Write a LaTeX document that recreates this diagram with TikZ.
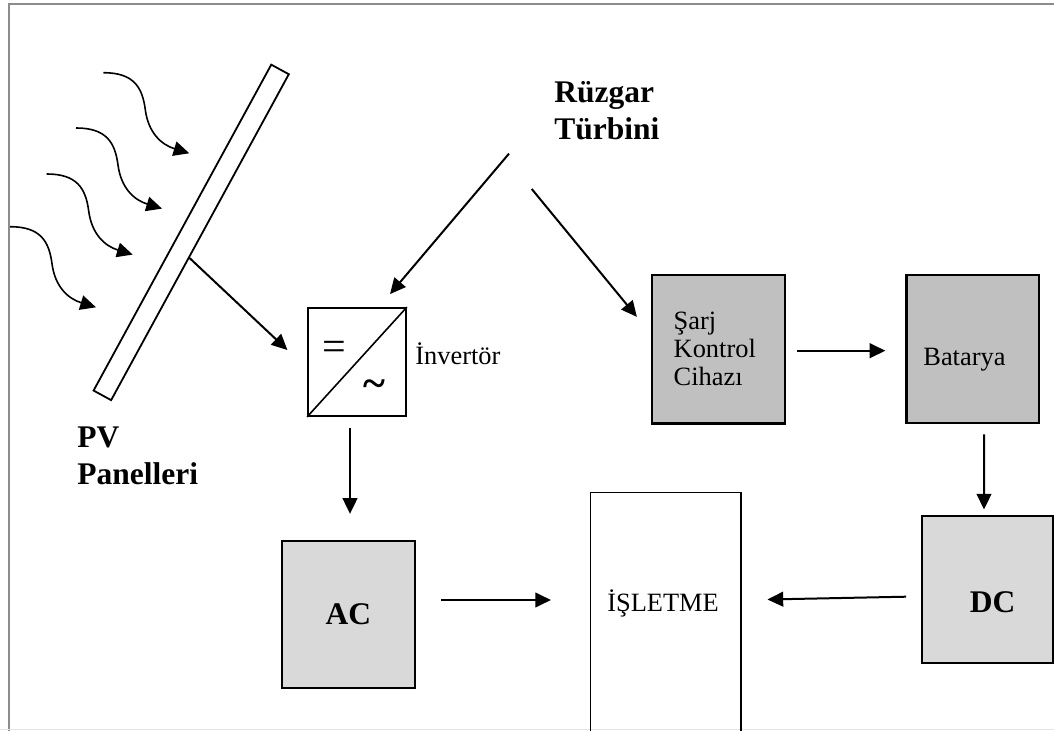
\documentclass[tikz,border=0pt]{standalone}
\usepackage{fontspec}
\setmainfont{Liberation Serif}
\usetikzlibrary{arrows.meta,calc}
\definecolor{boxdark}{RGB}{192,192,192}
\definecolor{boxlight}{RGB}{217,217,217}
\definecolor{framegray}{RGB}{140,140,140}
\definecolor{framelight}{RGB}{228,228,228}
\tikzset{
 arr/.style={line width=1pt, -{Triangle[length=7.85pt,width=7.35pt]}},
 wave/.style={line width=0.8pt, -{Triangle[length=7.85pt,width=7.35pt]}},
 blk/.style={draw, line width=1.15pt, inner sep=0pt},
 regtxt/.style={font=\fontsize{13.2}{14}\selectfont, inner sep=0pt},
 boldtxt/.style={font=\fontsize{15.75}{18.5}\selectfont\bfseries, inner sep=0pt, align=left},
 symtxt/.style={font=\fontsize{21}{21}\selectfont, inner sep=0pt},
}
\begin{document}
\begin{tikzpicture}[x=0.5pt,y=-0.5pt]
\useasboundingbox (0,0) rectangle (1054,731);
% frame
\draw[framegray, line width=1pt] (8.5,731) -- (8.5,3.7) -- (1054,3.7);
\draw[framelight, line width=0.8pt] (0,729.6) -- (1054,729.6);

% PV panel
\node[draw, line width=0.9pt, minimum width=185.6pt, minimum height=10pt, inner sep=0pt, rotate=61.4] (panel) at (191.2,232.4) {};
\node[boldtxt, anchor=west] (pv) at (77,456) {PV\\Panelleri};

% sun rays
\foreach \sx/\sy in {103.3/72.7, 76/128, 46.7/174, 10/226.7} {
 \begin{scope}[shift={(\sx,\sy)}]
 \draw[wave] (0,0) .. controls (30,0) and (39,14) .. (42,37) .. controls (45,60) and (58,72) .. (86,80.6);
 \end{scope}
}

% wind turbine label
\node[boldtxt, anchor=west] (rz) at (554,111) {Rüzgar\\Türbini};

% inverter
\node[draw, line width=0.9pt, minimum width=49pt, minimum height=54pt, inner sep=0pt] (inv) at (357,362) {};
\draw[line width=0.8pt] (inv.south west) -- (inv.north east);
\node[symtxt] (inveq) at (334.3,350.5) {=};
\node[symtxt, font=\fontsize{21}{21}\selectfont\bfseries] (invac) at (374,388.3) {\textasciitilde};
\node[regtxt, anchor=base west] (invlbl) at (415,365) {İnvertör};

% charge controller and battery
\node[blk, fill=boxdark, minimum width=66.7pt, minimum height=74.2pt] (sarj) at (718.4,349.2) {};
\node[regtxt, align=left, anchor=west] (sarjtxt) at (673.3,349) {Şarj\\Kontrol\\Cihazı};
\node[blk, fill=boxdark, minimum width=66.3pt, minimum height=74pt] (bat) at (972.8,349) {};
\node[regtxt, anchor=base west] (battxt) at (923,366) {Batarya};

% AC, load, DC
\node[blk, fill=boxlight, minimum width=66.7pt, minimum height=73.8pt, font=\fontsize{15.75}{18}\selectfont\bfseries] (ac) at (348.4,614.5) {AC};
\node[draw, line width=0.75pt, minimum width=75.15pt, minimum height=123.65pt, inner sep=0pt] (isl) at (665.85,616.35) {};
\node[regtxt, anchor=base] (isltxt) at (663,611) {İŞLETME};
\node[blk, fill=boxlight, minimum width=65.65pt, minimum height=73.8pt] (dc) at (987.4,589.5) {};
\node[boldtxt] (dctxt) at (992.5,602.5) {DC};

% connectors
\draw[arr] ($(panel.south)!0.125!(panel.south west)$) -- ($(inv.west)+(-19.7,-12)$);
\draw[arr] ($(rz.south west)+(-45,13)$) -- ($(inv.north)+(33,-13)$);
\draw[arr] ($(rz.south west)+(-22.3,48.3)$) -- ($(sarj.north west)+(-13.7,43)$);
\draw[arr] ($(sarj.east)+(11,1.5)$) -- ($(bat.west)+(-20,1.7)$);
\draw[arr] ($(bat.south)+(11.2,10.3)$) -- ($(dc.north)+(-3.4,-5)$);
\draw[arr] ($(inv.south)+(-7,10.7)$) -- ($(ac.north)+(1.6,-25.7)$);
\draw[arr] ($(ac.east)+(25,-14.5)$) -- ($(isl.west)+(-39,-16.35)$);
\draw[arr] ($(dc.west)+(-14.4,7.2)$) -- ($(isl.east)+(25.7,-16.85)$);
\end{tikzpicture}
\end{document}
